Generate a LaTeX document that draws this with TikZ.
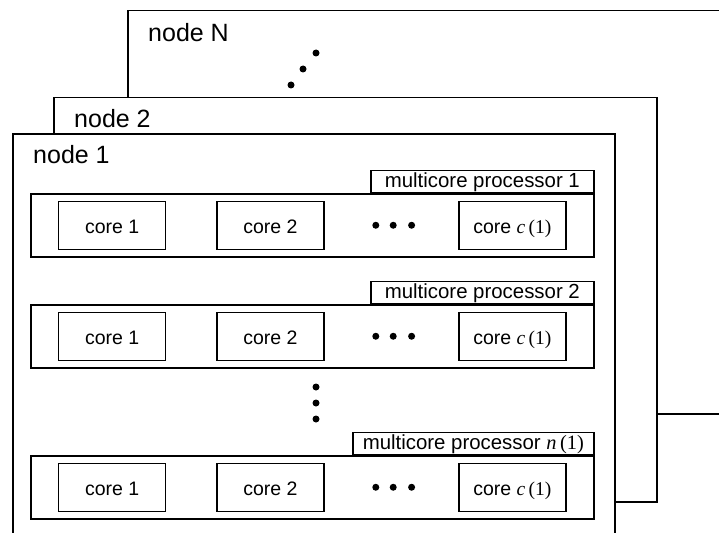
\documentclass[tikz,border=0pt]{standalone}
\usepackage{fontspec}
\setmainfont{Liberation Sans}
\newfontfamily\timesfont{Liberation Serif}
\newcommand{\cnum}[1]{{\timesfont\itshape #1}\,{\timesfont(1)}}
\usetikzlibrary{positioning}
\tikzset{
  hostbox/.style={draw, fill=white, line width=1.5pt, anchor=north west, inner sep=0pt},
  hostlabel/.style={anchor=base west, inner sep=0pt, font=\fontsize{25}{28}\selectfont},
  cpubox/.style={draw, line width=1.5pt, anchor=north west, minimum width=563pt, minimum height=63pt, inner sep=0pt},
  cpulabel/.style={draw, line width=1.3pt, anchor=south east, minimum height=22pt, inner sep=0pt, text height=15pt, text depth=3pt, font=\fontsize{20.4}{22}\selectfont},
  corebox/.style={draw, line width=1.3pt, minimum width=107pt, minimum height=48pt, inner sep=0pt, text height=16pt, text depth=0pt, font=\fontsize{19.5}{22}\selectfont},
  dotmark/.style={fill=black, circle, inner sep=0pt, minimum size=7pt},
}
\begin{document}
\begin{tikzpicture}[x=1pt,y=-1pt]
\useasboundingbox (0,0) rectangle (719,532);
\clip (0,0) rectangle (719,532);
% computing nodes, back to front
\node[hostbox, minimum width=650pt, minimum height=403pt] (hostN) at (127,10) {};
\node[hostlabel] (hostNlab) at (148,42) {node N};
\node[hostbox, minimum width=603pt, minimum height=404pt] (host2) at (53,97) {};
\node[hostlabel] (host2lab) at (74,128) {node 2};
\node[hostbox, minimum width=602pt, minimum height=430pt] (host1) at (12,133) {};
\node[hostlabel] (host1lab) at (33,163) {node 1};

% dots between node 2 and node N
\foreach \i/\x/\y in {1/291/85, 2/303/69, 3/316/53}
  \node[dotmark] (ndot\i) at (\x,\y) {};

% processors of node 1
\foreach \k/\y/\lw/\txt in {1/193/223/{multicore processor 1},
                           2/304/223/{multicore processor 2},
                           3/455/241/{multicore processor \cnum{n}}} {
  \node[cpubox] (cpu\k) at (30,\y) {};
  \node[cpulabel, minimum width=\lw pt] (lab\k) at (cpu\k.north east) {\txt};
  \node[corebox, right=28pt of cpu\k.west] (cpu\k c1) {core 1};
  \node[corebox, right=50pt of cpu\k c1] (cpu\k c2) {core 2};
  \node[corebox, left=28pt of cpu\k.east] (cpu\k cn) {core \cnum{c}};
  \node[dotmark, right=47.5pt of cpu\k c2] (cpu\k d1) {};
  \node[dotmark, right=10pt of cpu\k d1] (cpu\k d2) {};
  \node[dotmark, right=11pt of cpu\k d2] (cpu\k d3) {};
}

% dots between processors
\foreach \i/\y in {1/387, 2/403, 3/419}
  \node[dotmark] (vdot\i) at (316,\y) {};
\end{tikzpicture}
\end{document}
